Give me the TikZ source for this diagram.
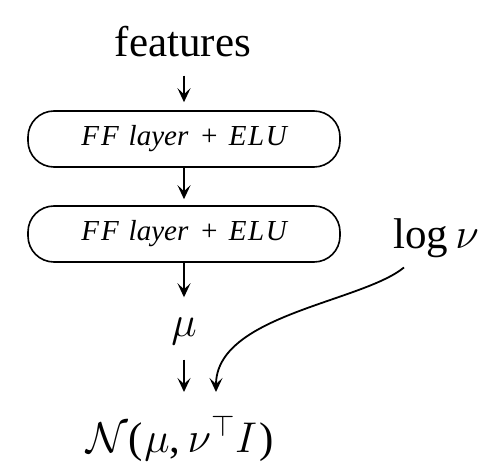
\documentclass[tikz,border=0pt]{standalone}
\usepackage{fix-cm}
\usepackage{fontspec}
\setmainfont{Liberation Serif}
\usetikzlibrary{arrows.meta,calc}
\newcommand{\fflabel}{F\kern2ptF\hspace{10pt}layer\hspace{11pt}+\hspace{10pt}E\kern1.5ptL\kern1.5ptU}
\begin{document}
\begin{tikzpicture}[x=1pt,y=-1pt,
  big/.style={inner sep=0pt,font=\fontsize{43}{50}\selectfont},
  layerbox/.style={draw,line width=1.6pt,rounded corners=26pt,minimum width=312pt,minimum height=56pt,inner sep=0pt,font=\fontsize{29}{34}\selectfont\itshape},
  arr/.style={line width=1.8pt,-{Stealth[length=14pt,width=13pt,inset=6pt]}}]
\useasboundingbox (0,0) rectangle (496,476);
\node[big,anchor=base] (feat) at (183,57) {features};
\node[layerbox] (ff1) at (184,139) {\fflabel};
\node[layerbox] (ff2) at (184,234) {\fflabel};
\node[big,anchor=base] (mu) at (184,336) {$\mu$};
\node[big,anchor=base] (lognu) at (436,248) {log\,$\nu$};
\node[big,anchor=base] (N) at (180,452) {$\mathcal{N}$(\kern0.05em$\mu$,\,$\nu^{\top}I$\kern0.05em)};
\draw[arr,shorten <=18pt,shorten >=8pt] (feat.south -| ff1.north) -- (ff1.north);
\draw[arr,shorten >=6pt] (ff1) -- (ff2);
\draw[arr,shorten >=20pt] (ff2.south) -- (ff2.south |- mu.north);
\draw[arr] ($(mu.south)+(0,15)$) -- (mu.south |- 0,392);
\draw[arr] ($(lognu.south west)+(11,10)$) .. controls +(-43,35) and +(0,-77) .. ($(mu.south |- 0,392)+(32,0)$);
\end{tikzpicture}
\end{document}
